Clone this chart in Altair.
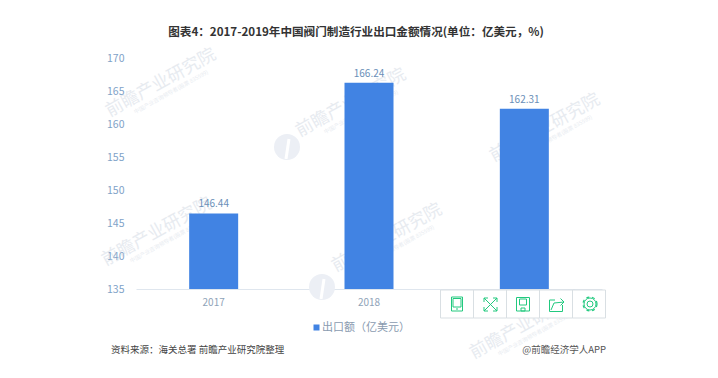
import altair as alt
import pandas as pd

years = ["2017", "2018", "2019"]
values = [146.44, 166.24, 162.31]
series = "出口额（亿美元）"
title_text = "图表4：2017-2019年中国阀门制造行业出口金额情况(单位：亿美元，%)"
source_text = "资料来源：海关总署 前瞻产业研究院整理"
credit_text = "@前瞻经济学人APP"
watermark = "前瞻产业研究院"
watermark_sub = "中国产业咨询领导者(股票 835599)"
FONT = "Noto Sans CJK SC"
W, H = 466, 231
L, T = 136, 58   # plot-area origin in image pixels
GREEN = "#22c97f"

df = pd.DataFrame({"year": years, "value": values, "series": [series] * 3, "label": [f"{v:.2f}" for v in values]})

x = alt.X("year:N", title=None, scale=alt.Scale(paddingInner=0.685, paddingOuter=0.3425),
          axis=alt.Axis(labelAngle=0, labelColor="#8fa3b8", labelFontSize=10, labelFontWeight="normal", labelFont=FONT,
                        ticks=False, domainColor="#dfe6ee", labelPadding=8, grid=False))
y = alt.Y("value:Q", title=None, scale=alt.Scale(domain=[135, 170], nice=False, clamp=True),
          axis=alt.Axis(values=list(range(135, 171, 5)), labelColor="#7fa2c8", labelFontSize=10.5, labelFont=FONT,
                        ticks=False, domain=False, grid=False, labelPadding=12))

bars = alt.Chart(df).mark_bar(size=49).encode(
    x=x, y=y,
    color=alt.Color("series:N", scale=alt.Scale(range=["#4183e3"]),
                    legend=alt.Legend(title=None, orient="none", legendX=311 - L, legendY=322 - T, symbolType="square",
                                      symbolSize=36, labelColor="#8a9bb0", labelFontSize=11, labelFont=FONT,
                                      labelOffset=0)))
labels = alt.Chart(df).mark_text(dy=-9, fontSize=10, fontWeight="normal", color="#6a8fb8", font=FONT).encode(
    x=x, y=y, text="label:N")


def one():
    return pd.DataFrame({"a": [0]})


def note(text, px, py, size=10, color="#444444", align="left", weight="normal", angle=0, opacity=1.0):
    return alt.Chart(pd.DataFrame({"t": [text]})).mark_text(
        align=align, baseline="middle", fontSize=size, color=color, font=FONT, fontWeight=weight,
        angle=angle, opacity=opacity, clip=False,
    ).encode(x=alt.value(px - L), y=alt.value(py - T), text="t:N")


def box(x0, y0, x1, y1, fill="transparent", stroke=GREEN, sw=1.0):
    return alt.Chart(one()).mark_rect(fill=fill, stroke=stroke, strokeWidth=sw).encode(
        x=alt.value(x0 - L), x2=alt.value(x1 - L), y=alt.value(y0 - T), y2=alt.value(y1 - T))


def seg(x0, y0, x1, y1, color=GREEN, sw=1.0):
    return alt.Chart(one()).mark_rule(color=color, strokeWidth=sw).encode(
        x=alt.value(x0 - L), x2=alt.value(x1 - L), y=alt.value(y0 - T), y2=alt.value(y1 - T))


def dot(px, py, d, fill="transparent", stroke=GREEN, sw=1.0, dash=None, opacity=1.0):
    kw = {"strokeDash": dash} if dash else {}
    return alt.Chart(one()).mark_point(shape="circle", filled=False, size=d * d, fill=fill, stroke=stroke,
                                       strokeWidth=sw, opacity=opacity, clip=False, **kw).encode(
        x=alt.value(px - L), y=alt.value(py - T))


marks = []
for wx, wy, logo in [(161, 83, None), (351, 103, (287, 147)), (157, 232, None), (387, 238, (322, 287)),
                     (545, 128, None), (525, 325, None)]:
    marks.append(note(watermark, wx, wy, size=17.5, color="#c5cedb", align="center", angle=331, opacity=0.4))
    marks.append(note(watermark_sub, wx + 10, wy + 9, size=5.5, color="#c5cedb", align="center", angle=331, opacity=0.4))
    if logo:
        marks.append(dot(logo[0], logo[1], 26, fill="#eceff5", stroke="#eceff5", sw=0))
        marks.append(seg(logo[0] - 1, logo[1] + 12, logo[0] + 2, logo[1] - 8, color="#ffffff", sw=3))
marks += [bars, labels]
marks += [note(title_text, 356, 33, size=11.6, color="#333333", align="center", weight="bold"),
          note(source_text, 111, 350, size=9.5, color="#444444"),
          note(credit_text, 606, 350, size=9.5, color="#555555", align="right")]

# toolbar overlay
edges = [440.5, 473.5, 506.5, 539.5, 572.5, 605.5]
for a, b in zip(edges[:-1], edges[1:]):
    marks.append(box(a, 290, b, 318, fill="#ffffff", stroke="#d9dfe3", sw=1))
# tablet
marks += [box(451.5, 297, 462.5, 311), box(453, 298.5, 461, 307), seg(456, 309, 458, 309)]
# fullscreen
marks += [seg(484, 298, 497, 311), seg(497, 298, 484, 311)]
for cx, cy, sx, sy in [(484, 298, 1, 1), (497, 298, -1, 1), (484, 311, 1, -1), (497, 311, -1, -1)]:
    marks += [seg(cx, cy, cx + 4 * sx, cy), seg(cx, cy, cx, cy + 4 * sy)]
# save
marks += [box(516.5, 297.5, 529.5, 311), box(519.5, 299, 526.5, 305), box(521, 308, 525, 311)]
# share
marks += [seg(549.5, 300, 549.5, 311.5), seg(549.5, 311.5, 562.5, 311.5), seg(562.5, 311.5, 562.5, 305),
          seg(549.5, 300, 555, 300), seg(551, 310, 554, 303), seg(554, 303, 564, 302),
          seg(564, 302, 560.5, 298.5), seg(564, 302, 560.5, 305.5)]
# settings
marks += [dot(590, 304, 6), dot(590, 304, 12), dot(590, 304, 14, sw=1.2, dash=[3, 2.8])]

chart = alt.layer(*marks).resolve_scale(color="independent").properties(
    width=W, height=H,
    padding={"left": L - 8, "top": T - 8, "right": 718 - 16 - (L - 8) - W, "bottom": 378 - 16 - (T - 8) - H},
    autosize=alt.AutoSizeParams(type="none"),
).configure_view(stroke=None)

chart.save("out.html", embed_options={"renderer": "svg", "actions": False})
